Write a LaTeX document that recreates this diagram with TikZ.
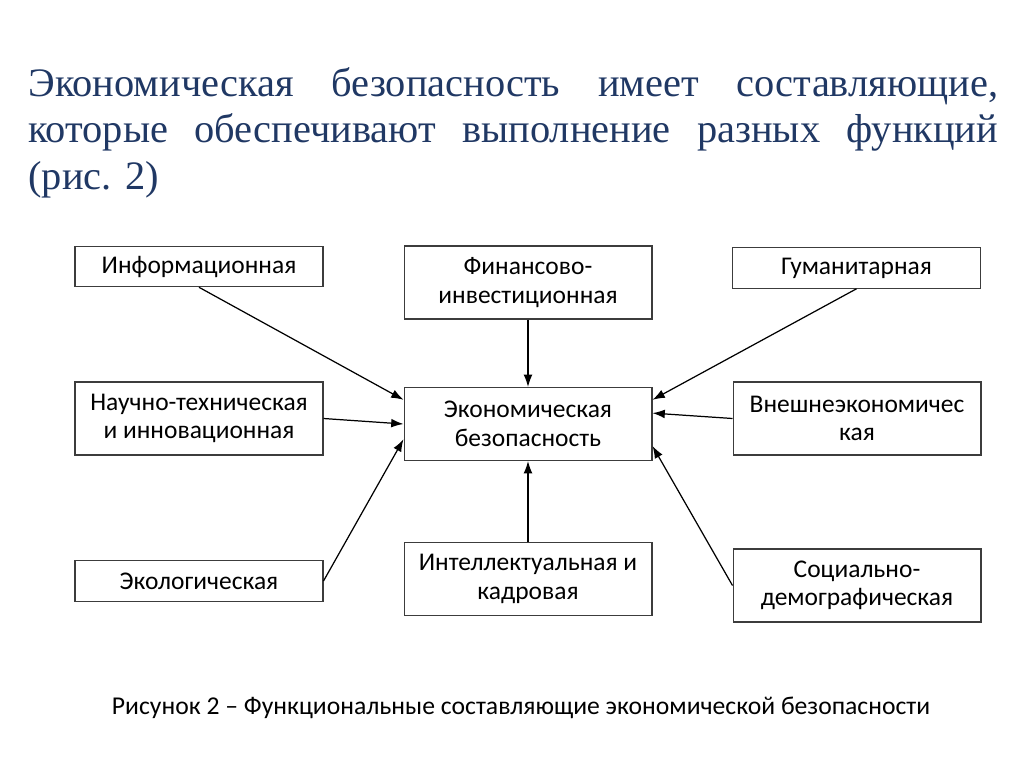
\documentclass[tikz,border=0pt]{standalone}
\usepackage{fontspec}
\setmainfont{Carlito}
\newfontfamily\titlefont{Liberation Serif}
\usetikzlibrary{arrows.meta}
\definecolor{heading}{RGB}{32,56,100}
\definecolor{frame}{RGB}{60,60,60}

\begin{document}
\begin{tikzpicture}[
  x=0.02cm,y=-0.02cm,
  >={Latex[length=7pt,width=5pt]},
  part/.style={rectangle,draw=frame,line width=0.6pt,fill=white,minimum width=4.96cm,
    inner sep=2pt,align=center,font=\fontsize{14.5}{16.2}\selectfont},
  low/.style={part,minimum height=0.81cm},
  high/.style={part,minimum height=1.46cm},
  feed/.style={->,line width=0.7pt,black},
  caption/.style={font=\fontsize{14.6}{16.5}\selectfont,inner sep=0pt}
]
\useasboundingbox (0,0) rectangle (1024,767);
% ================= heading =================
\node[anchor=base west,inner sep=0pt,text width=19.4cm,align=left,text=heading,
  font=\titlefont\fontsize{23}{26.7}\selectfont\frenchspacing] (head) at (28,96)
  {Экономическая\hfill безопасность\hfill имеет\hfill составляющие,\\
   которые\hfill обеспечивают\hfill выполнение\hfill разных\hfill функций\\
   (рис. 2)};
% ================= boxes =================
\node[low] (info) at (199,266.5) {Информационная};
\node[high] (fin) at (528,282.5) {Финансово-\\инвестиционная};
\node[low] (gum) at (856.5,268) {Гуманитарная};
\node[high] (nauch) at (199,418.5) {Научно-техническая\\и инновационная};
\node[high] (econ) at (528,424) {Экономическая\\безопасность};
\node[high] (vnesh) at (857,418.5) {Внешнеэкономичес\\кая};
\node[low] (ekol) at (199,581) {Экологическая};
\node[high] (intel) at (528,579) {Интеллектуальная и\\кадровая};
\node[high] (soc) at (857,585.5) {Социально-\\демографическая};
% ================= arrows =================
\draw[feed] (info.south) -- (econ.169);
\draw[feed] (fin.south) -- (econ.north);
\draw[feed] (gum.south) -- (econ.11);
\draw[feed] (nauch.east) -- (econ.west);
\draw[feed] (vnesh.west) -- (econ.5);
\draw[feed] (ekol.east) -- (econ.187);
\draw[feed] (intel.north) -- (econ.south);
\draw[feed] (soc.west) -- (econ.350);
% ================= caption =================
\node[caption,anchor=base] (cap) at (521,714)
  {Рисунок 2 – Функциональные составляющие экономической безопасности};
\end{tikzpicture}
\end{document}
